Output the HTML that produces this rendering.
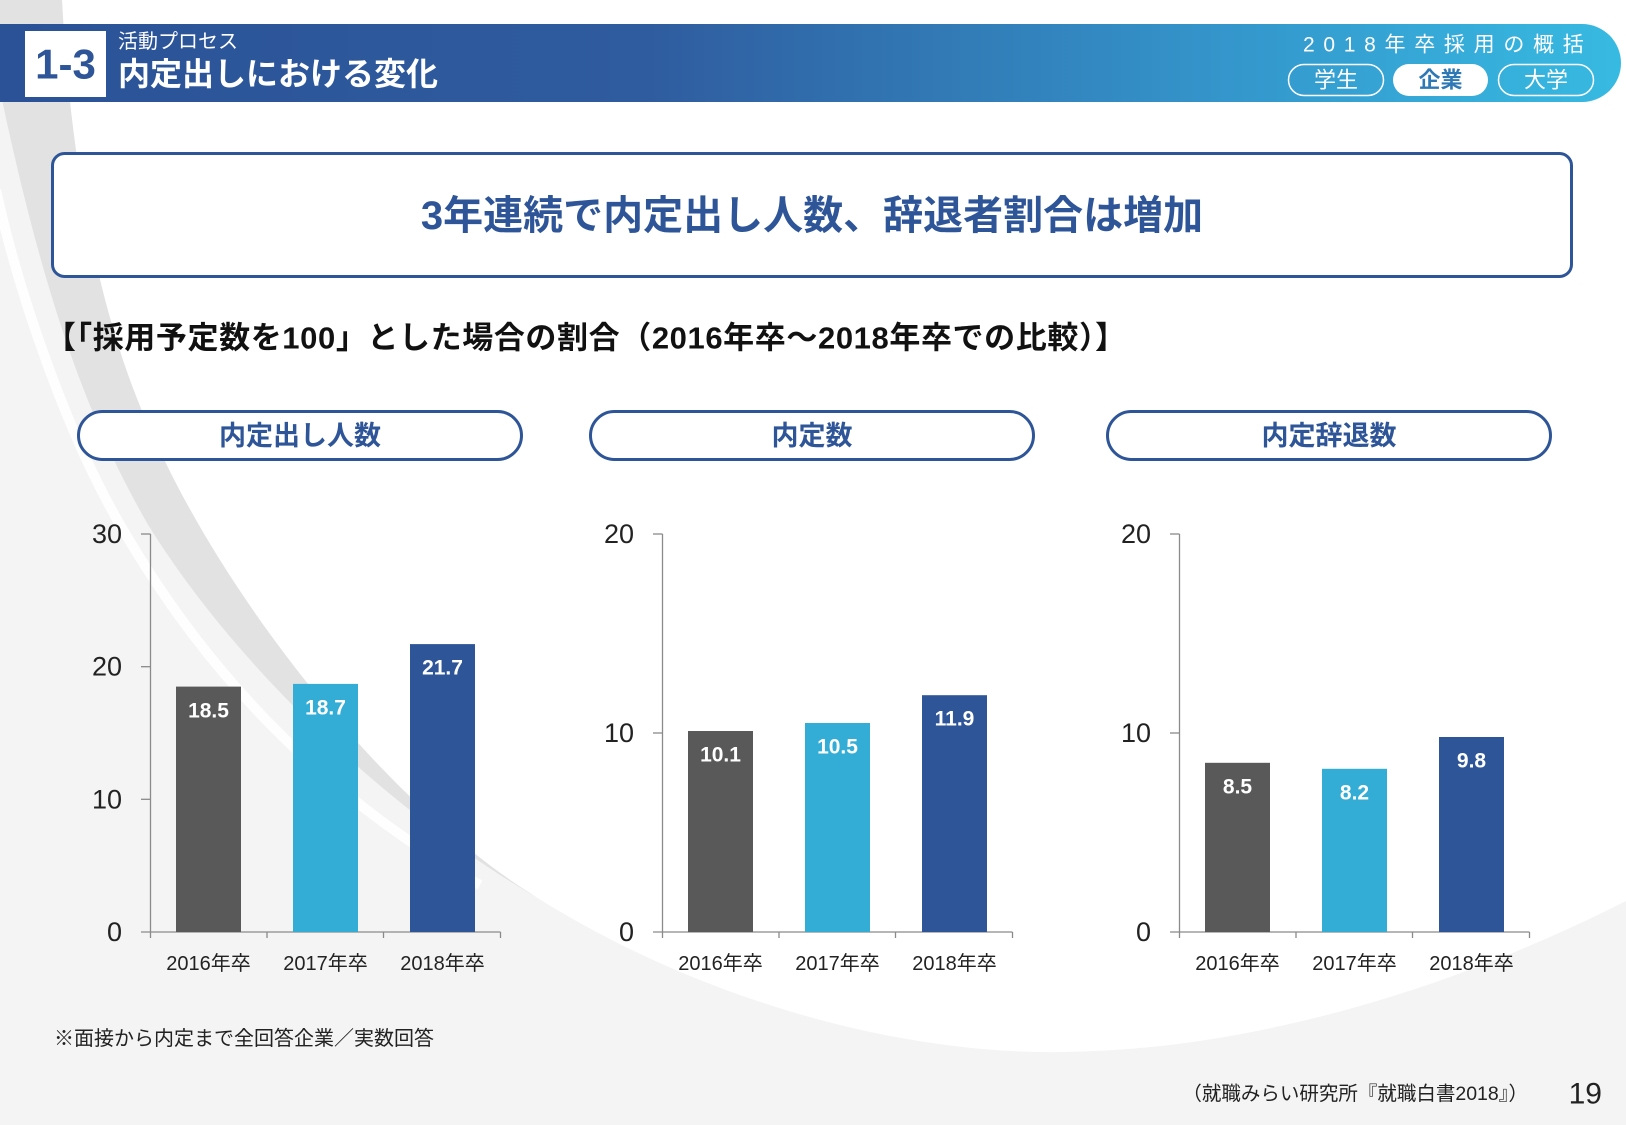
<!DOCTYPE html>
<html><head><meta charset="utf-8"><style>
html,body{margin:0;padding:0;background:#fff;}
svg{display:block;}
text{font-family:"Liberation Sans","Noto Sans CJK JP",sans-serif;}
</style></head><body>
<svg width="1626" height="1125" viewBox="0 0 1626 1125" xmlns="http://www.w3.org/2000/svg">
<defs>
<linearGradient id="hg" x1="0" y1="0" x2="1" y2="0">
<stop offset="0" stop-color="#2b5297"/>
<stop offset="0.4" stop-color="#2f5c9f"/>
<stop offset="0.75" stop-color="#3495cb"/>
<stop offset="1" stop-color="#37bae2"/>
</linearGradient>
</defs>
<!-- background -->
<rect x="0" y="0" width="1626" height="1125" fill="#f4f4f4"/>
<path d="M62,0 C70,150 95,320 161,453 C230,600 380,800 536,897 C700,1000 900,1055 1063,1052 C1250,1050 1450,990 1626,901 L1626,0 Z" fill="#ffffff"/>
<path d="M62,0 C70,150 95,320 161,453 C230,600 380,800 536,897 C420,830 250,690 147,523 C100,440 50,330 0,90 L0,0 Z" fill="#e2e2e2"/>
<path d="M-4,190 C20,300 70,440 122,528 C210,680 330,800 480,885" fill="none" stroke="#ffffff" stroke-width="10" opacity="0.9"/>

<!-- header -->
<path d="M0,24 H1582 A39,39 0 0 1 1621,63 A39,39 0 0 1 1582,102 H0 Z" fill="url(#hg)"/>
<rect x="25" y="31" width="81" height="66" fill="#ffffff"/>
<text x="65.5" y="64" text-anchor="middle" dominant-baseline="central" font-size="42" font-weight="700" fill="#2d5598">1-3</text>
<text x="118" y="42" dominant-baseline="central" font-size="20" fill="#ffffff">活動プロセス</text>
<text x="118" y="74" dominant-baseline="central" font-size="32" font-weight="700" fill="#ffffff">内定出しにおける変化</text>
<text x="1303" y="45" dominant-baseline="central" font-size="21" letter-spacing="8.7" fill="#ffffff">2018年卒採用の概括</text>
<rect x="1288.5" y="64.5" width="95" height="31" rx="15.5" fill="none" stroke="#ffffff" stroke-width="1.5"/>
<text x="1336" y="80" text-anchor="middle" dominant-baseline="central" font-size="22" fill="#ffffff">学生</text>
<rect x="1393" y="64" width="95" height="32" rx="16" fill="#ffffff"/>
<text x="1440.5" y="80" text-anchor="middle" dominant-baseline="central" font-size="22" font-weight="700" fill="#2f78b6">企業</text>
<rect x="1498.5" y="64.5" width="95" height="31" rx="15.5" fill="none" stroke="#ffffff" stroke-width="1.5"/>
<text x="1546" y="80" text-anchor="middle" dominant-baseline="central" font-size="22" fill="#ffffff">大学</text>

<!-- title box -->
<rect x="52.5" y="153.5" width="1519" height="123" rx="12" fill="#ffffff" stroke="#2e5597" stroke-width="3"/>
<text x="812" y="216" text-anchor="middle" dominant-baseline="central" font-size="40" font-weight="700" fill="#2e5597">3年連続で内定出し人数、辞退者割合は増加</text>

<!-- subtitle -->
<text x="45" y="338" dominant-baseline="central" font-size="31" font-weight="700" letter-spacing="0.6" fill="#111111">【「採用予定数を100」とした場合の割合（2016年卒～2018年卒での比較）】</text>

<!-- pills -->
<rect x="78.5" y="411.5" width="443" height="48" rx="24" fill="#ffffff" stroke="#2e5597" stroke-width="3"/>
<text x="300" y="436" text-anchor="middle" dominant-baseline="central" font-size="27" font-weight="700" fill="#2e5597">内定出し人数</text>
<rect x="590.5" y="411.5" width="443" height="48" rx="24" fill="#ffffff" stroke="#2e5597" stroke-width="3"/>
<text x="812" y="436" text-anchor="middle" dominant-baseline="central" font-size="27" font-weight="700" fill="#2e5597">内定数</text>
<rect x="1107.5" y="411.5" width="443" height="48" rx="24" fill="#ffffff" stroke="#2e5597" stroke-width="3"/>
<text x="1329" y="436" text-anchor="middle" dominant-baseline="central" font-size="27" font-weight="700" fill="#2e5597">内定辞退数</text>

<!-- chart 1 -->
<g stroke="#8a8a8a" stroke-width="1.3" fill="none">
<line x1="150.5" y1="534" x2="150.5" y2="932"/>
<line x1="141" y1="534" x2="150.5" y2="534"/>
<line x1="141" y1="666.7" x2="150.5" y2="666.7"/>
<line x1="141" y1="799.3" x2="150.5" y2="799.3"/>
<line x1="141" y1="932" x2="500.5" y2="932"/>
<line x1="150.5" y1="932" x2="150.5" y2="938"/>
<line x1="267" y1="932" x2="267" y2="938"/>
<line x1="383.5" y1="932" x2="383.5" y2="938"/>
<line x1="500.5" y1="932" x2="500.5" y2="938"/>
</g>
<g font-size="27" fill="#222222" text-anchor="end" dominant-baseline="central">
<text x="122" y="534">30</text>
<text x="122" y="666.7">20</text>
<text x="122" y="799.3">10</text>
<text x="122" y="932">0</text>
</g>
<rect x="176" y="686.6" width="65" height="245.4" fill="#595959"/>
<rect x="293" y="683.9" width="65" height="248.1" fill="#33acd6"/>
<rect x="410" y="644.1" width="65" height="287.9" fill="#2e5597"/>
<g font-size="21" font-weight="700" fill="#ffffff" text-anchor="middle" dominant-baseline="central">
<text x="208.5" y="711">18.5</text>
<text x="325.5" y="708">18.7</text>
<text x="442.5" y="668">21.7</text>
</g>
<g font-size="20" fill="#222222" text-anchor="middle" dominant-baseline="central">
<text x="208.5" y="964">2016年卒</text>
<text x="325.5" y="964">2017年卒</text>
<text x="442.5" y="964">2018年卒</text>
</g>

<!-- chart 2 -->
<g stroke="#8a8a8a" stroke-width="1.3" fill="none">
<line x1="662.5" y1="534" x2="662.5" y2="932"/>
<line x1="653" y1="534" x2="662.5" y2="534"/>
<line x1="653" y1="733" x2="662.5" y2="733"/>
<line x1="653" y1="932" x2="1012.5" y2="932"/>
<line x1="662.5" y1="932" x2="662.5" y2="938"/>
<line x1="779" y1="932" x2="779" y2="938"/>
<line x1="895.5" y1="932" x2="895.5" y2="938"/>
<line x1="1012.5" y1="932" x2="1012.5" y2="938"/>
</g>
<g font-size="27" fill="#222222" text-anchor="end" dominant-baseline="central">
<text x="634" y="534">20</text>
<text x="634" y="733">10</text>
<text x="634" y="932">0</text>
</g>
<rect x="688" y="731" width="65" height="201" fill="#595959"/>
<rect x="805" y="723" width="65" height="209" fill="#33acd6"/>
<rect x="922" y="695.2" width="65" height="236.8" fill="#2e5597"/>
<g font-size="21" font-weight="700" fill="#ffffff" text-anchor="middle" dominant-baseline="central">
<text x="720.5" y="755">10.1</text>
<text x="837.5" y="747">10.5</text>
<text x="954.5" y="719">11.9</text>
</g>
<g font-size="20" fill="#222222" text-anchor="middle" dominant-baseline="central">
<text x="720.5" y="964">2016年卒</text>
<text x="837.5" y="964">2017年卒</text>
<text x="954.5" y="964">2018年卒</text>
</g>

<!-- chart 3 -->
<g stroke="#8a8a8a" stroke-width="1.3" fill="none">
<line x1="1179.5" y1="534" x2="1179.5" y2="932"/>
<line x1="1170" y1="534" x2="1179.5" y2="534"/>
<line x1="1170" y1="733" x2="1179.5" y2="733"/>
<line x1="1170" y1="932" x2="1529.5" y2="932"/>
<line x1="1179.5" y1="932" x2="1179.5" y2="938"/>
<line x1="1296" y1="932" x2="1296" y2="938"/>
<line x1="1412.5" y1="932" x2="1412.5" y2="938"/>
<line x1="1529.5" y1="932" x2="1529.5" y2="938"/>
</g>
<g font-size="27" fill="#222222" text-anchor="end" dominant-baseline="central">
<text x="1151" y="534">20</text>
<text x="1151" y="733">10</text>
<text x="1151" y="932">0</text>
</g>
<rect x="1205" y="762.8" width="65" height="169.2" fill="#595959"/>
<rect x="1322" y="768.8" width="65" height="163.2" fill="#33acd6"/>
<rect x="1439" y="737" width="65" height="195" fill="#2e5597"/>
<g font-size="21" font-weight="700" fill="#ffffff" text-anchor="middle" dominant-baseline="central">
<text x="1237.5" y="787">8.5</text>
<text x="1354.5" y="793">8.2</text>
<text x="1471.5" y="761">9.8</text>
</g>
<g font-size="20" fill="#222222" text-anchor="middle" dominant-baseline="central">
<text x="1237.5" y="964">2016年卒</text>
<text x="1354.5" y="964">2017年卒</text>
<text x="1471.5" y="964">2018年卒</text>
</g>

<!-- notes -->
<text x="54" y="1039" dominant-baseline="central" font-size="20" fill="#222222">※面接から内定まで全回答企業／実数回答</text>
<text x="1528" y="1094" text-anchor="end" dominant-baseline="central" font-size="19.5" fill="#222222">（就職みらい研究所『就職白書2018』）</text>
<text x="1602" y="1094" text-anchor="end" dominant-baseline="central" font-size="30" fill="#222222">19</text>
</svg>
</body></html>
